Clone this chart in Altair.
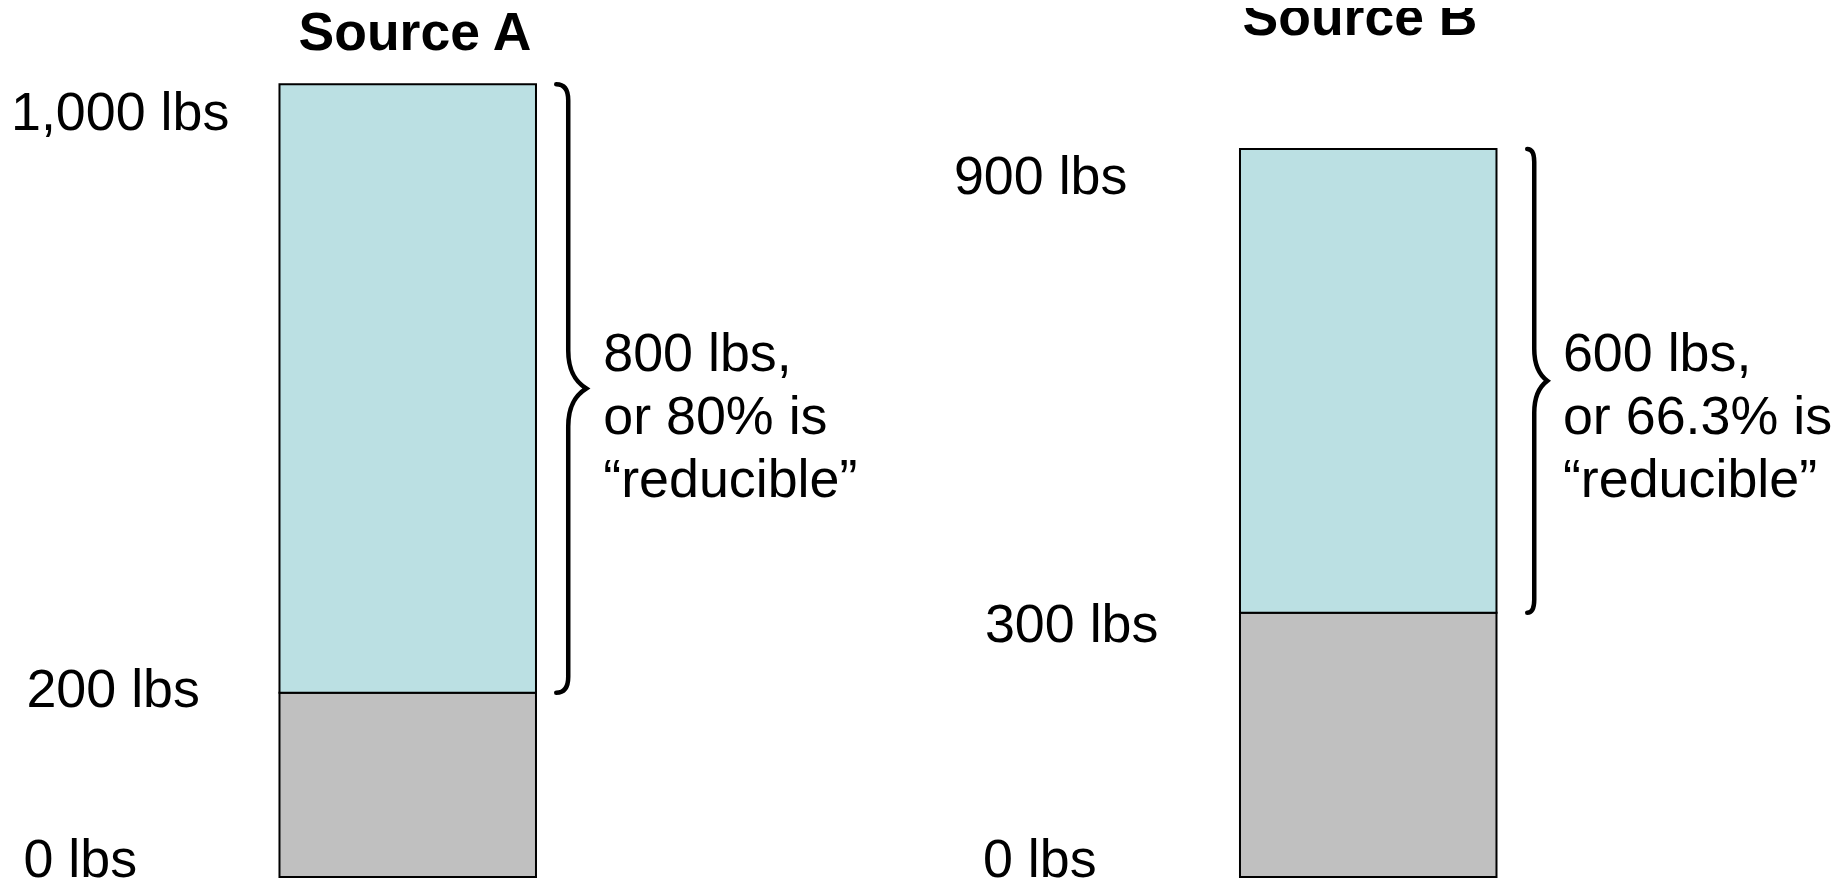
import altair as alt
import pandas as pd

# ---------------- data ----------------
sources = ["Source A", "Source B"]
totals = [1000, 900]
irreducible = [200, 300]
reducible_pct = ["80%", "66.3%"]
tick_values = [[0, 200, 1000], [0, 300, 900]]
tick_labels = [["0 lbs", "200 lbs", "1,000 lbs"], ["0 lbs", "300 lbs", "900 lbs"]]

# ---------------- style / layout ----------------
FONT = "Liberation Sans"
FS = 53.8
FS_TITLE = 53.5
W, H = 1823, 870
BLUE = "#BBE0E3"
GRAY = "#C0C0C0"

# pixel positions for the scale breakpoints (0, irreducible, total) – the original is not drawn to scale
y_ranges = [[869, 684.7, 76.3], [869, 604.7, 141.0]]
label_nudges = [
    [(-384.3, 0), (-381.3, 13.8), (-396.75, 45.7)],
    [(-385.3, 0), (-383.3, 29.0), (-414.3, 45.3)],
]
title_style = [(7.25, 42), (-8.25, 27)]
brace_style = [
    dict(hook=148.5, stem=160.5, point=178.5, curl=16, tip=38),
    dict(hook=159.0, stem=166.0, point=179.0, curl=13, tip=32),
]
annot_dx = [195.5, 194.7]
annot_dy = [-17.5, -9.85]

x_scale = alt.Scale(domain=sources, paddingInner=0.73295, paddingOuter=0.31546, align=0.448)
color_scale = alt.Scale(domain=["irreducible", "reducible"], range=[GRAY, BLUE])


def brace_path(half, hook, stem, point, curl, tip):
    h, s, p, c, t = (v / half for v in (hook, stem, point, curl, tip))
    m = s + 0.5 * (p - s)
    f = lambda v: f"{v:.4f}"
    return (
        f"M{f(h)},-1 Q{f(s)},-1 {f(s)},{f(-(1 - c))} L{f(s)},{f(-t)} "
        f"C{f(s)},{f(-t * 0.4)} {f(m)},{f(-t * 0.15)} {f(p)},0 "
        f"C{f(m)},{f(t * 0.15)} {f(s)},{f(t * 0.4)} {f(s)},{f(t)} "
        f"L{f(s)},{f(1 - c)} Q{f(s)},1 {f(h)},1"
    )


def group(i):
    src, tot, irr = sources[i], totals[i], irreducible[i]
    y_scale = alt.Scale(domain=[0, irr, tot], range=y_ranges[i], nice=False, zero=False)
    x_enc = alt.X("source:N", scale=x_scale, axis=None)

    bars_df = pd.DataFrame({
        "source": [src, src],
        "part": ["irreducible", "reducible"],
        "start": [0, irr],
        "end": [irr, tot],
    })
    bars = alt.Chart(bars_df).mark_bar(stroke="black", strokeWidth=2).encode(
        x=x_enc,
        y=alt.Y("start:Q", scale=y_scale, axis=None),
        y2="end:Q",
        color=alt.Color("part:N", scale=color_scale, legend=None),
    )

    layers = [bars]

    for (val, lab), (dx, dy) in zip(zip(tick_values[i], tick_labels[i]), label_nudges[i]):
        ldf = pd.DataFrame({"source": [src], "value": [val], "label": [lab]})
        layers.append(
            alt.Chart(ldf).mark_text(
                align="left", baseline="alphabetic", dx=dx, dy=dy,
                font=FONT, fontSize=FS, color="black",
            ).encode(
                x=x_enc,
                y=alt.Y("value:Q", scale=y_scale, axis=None),
                text="label:N",
            )
        )

    red_df = pd.DataFrame({
        "source": [src],
        "start": [irr],
        "end": [tot],
        "note": [f"{tot - irr} lbs,\nor {reducible_pct[i]} is\n\u201creducible\u201d"],
    })
    half = (y_ranges[i][1] - y_ranges[i][2]) / 2
    brace = alt.Chart(red_df).transform_calculate(
        mid="(datum.start + datum.end) / 2"
    ).mark_point(
        shape=brace_path(half, **brace_style[i]),
        filled=False, stroke="black", strokeWidth=4.5, opacity=1,
        size=(2 * half) ** 2, strokeJoin="miter", strokeCap="round",
    ).encode(
        x=x_enc,
        y=alt.Y("mid:Q", scale=y_scale, axis=None),
    )
    layers.append(brace)

    note = alt.Chart(red_df).transform_calculate(
        mid="(datum.start + datum.end) / 2"
    ).mark_text(
        align="left", baseline="alphabetic", dx=annot_dx[i], dy=annot_dy[i],
        font=FONT, fontSize=FS, lineHeight=63, lineBreak="\n", color="black",
    ).encode(
        x=x_enc,
        y=alt.Y("mid:Q", scale=y_scale, axis=None),
        text="note:N",
    )
    layers.append(note)

    tdx, ty = title_style[i]
    title = alt.Chart(pd.DataFrame({"source": [src]})).mark_text(
        align="center", baseline="alphabetic", dx=tdx,
        font=FONT, fontSize=FS_TITLE, fontWeight="bold", color="black",
    ).encode(
        x=x_enc,
        y=alt.value(ty),
        text="source:N",
    )
    layers.append(title)

    return alt.layer(*layers)


chart = (
    alt.layer(group(0), group(1))
    .resolve_scale(y="independent")
    .properties(width=W, height=H, padding=0, autosize=alt.AutoSizeParams(type="none"))
    .configure_view(stroke=None)
)

chart.save("out.html", embed_options={"renderer": "svg", "actions": False})
